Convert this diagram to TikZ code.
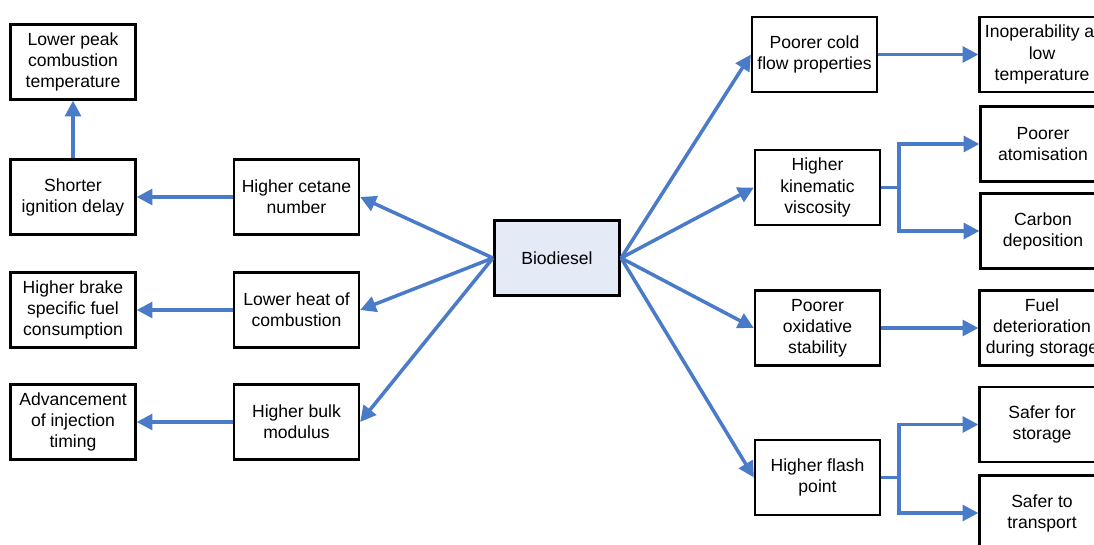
\documentclass[tikz,border=0pt]{standalone}
\usepackage{fontspec}
\setmainfont{Liberation Sans}
\usetikzlibrary{arrows.meta,positioning}
\definecolor{linkblue}{HTML}{4A7BC8}
\definecolor{hubfill}{HTML}{E4EAF6}

\begin{document}
\begin{tikzpicture}[x=0.02cm,y=-0.02cm,
  box/.style={draw, line width=1.3pt, minimum width=2.5cm, minimum height=1.5cm,
              align=center, inner sep=2pt, font=\fontsize{10}{12}\selectfont},
  hub/.style={box, fill=hubfill, line width=1.8pt},
  link/.style={linkblue, line width=2pt, -{Triangle[length=9pt,width=9pt]}}]
  \useasboundingbox (0,0) rectangle (1094,544);
  \clip (0,0) rectangle (1094,544);

  % Centre
  \node[hub] (bio) at (557,258) {Biodiesel};

  % Left side
  \node[box] (lpct) at (73,62) {Lower peak\\combustion\\temperature};
  \node[box] (sid) at (73,197) {Shorter\\ignition delay};
  \node[box] (hcn) at (296.5,197) {Higher cetane\\number};
  \node[box] (hbsfc) at (73,310) {Higher brake\\specific fuel\\consumption};
  \node[box] (lhc) at (296.5,310) {Lower heat of\\combustion};
  \node[box] (aij) at (73,422) {Advancement\\of injection\\timing};
  \node[box] (hbm) at (296.5,422) {Higher bulk\\modulus};

  % Right side
  \node[box] (pcfp) at (814.5,54.5) {Poorer cold\\flow properties};
  \node[box] (ilt) at (1042,54.5) {Inoperability at\\low\\temperature};
  \node[box] (hkv) at (817.5,187.5) {Higher\\kinematic\\viscosity};
  \node[box] (pa) at (1043,144) {Poorer\\atomisation};
  \node[box] (cd) at (1043,231) {Carbon\\deposition};
  \node[box] (pos) at (817.5,328) {Poorer\\oxidative\\stability};
  \node[box] (fdds) at (1042,328) {Fuel\\deterioration\\during storage};
  \node[box] (ssto) at (1042,424.5) {Safer for\\storage};
  \node[box] (hfp) at (817.5,477.5) {Higher flash\\point};
  \node[box] (stra) at (1042,513) {Safer to\\transport};

  % From the centre
  \foreach \n in {hcn,lhc,hbm}
    \draw[link] (bio.west) -- (\n.east);
  \foreach \n in {pcfp,hkv,pos,hfp}
    \draw[link] (bio.east) -- (\n.west);

  % Consequences
  \draw[link] (hcn.west) -- (sid.east);
  \draw[link] (sid.north) -- (lpct.south);
  \draw[link] (lhc.west) -- (hbsfc.east);
  \draw[link] (hbm.west) -- (aij.east);
  \draw[link] (pcfp.east) -- (ilt.west);
  \draw[link] (pos.east) -- (fdds.west);
  \draw[link] (hkv.east) -- ++(18,0) |- (pa.west);
  \draw[link] (hkv.east) -- ++(18,0) |- (cd.west);
  \draw[link] (hfp.east) -- ++(18,0) |- (ssto.west);
  \draw[link] (hfp.east) -- ++(18,0) |- (stra.west);
\end{tikzpicture}
\end{document}
